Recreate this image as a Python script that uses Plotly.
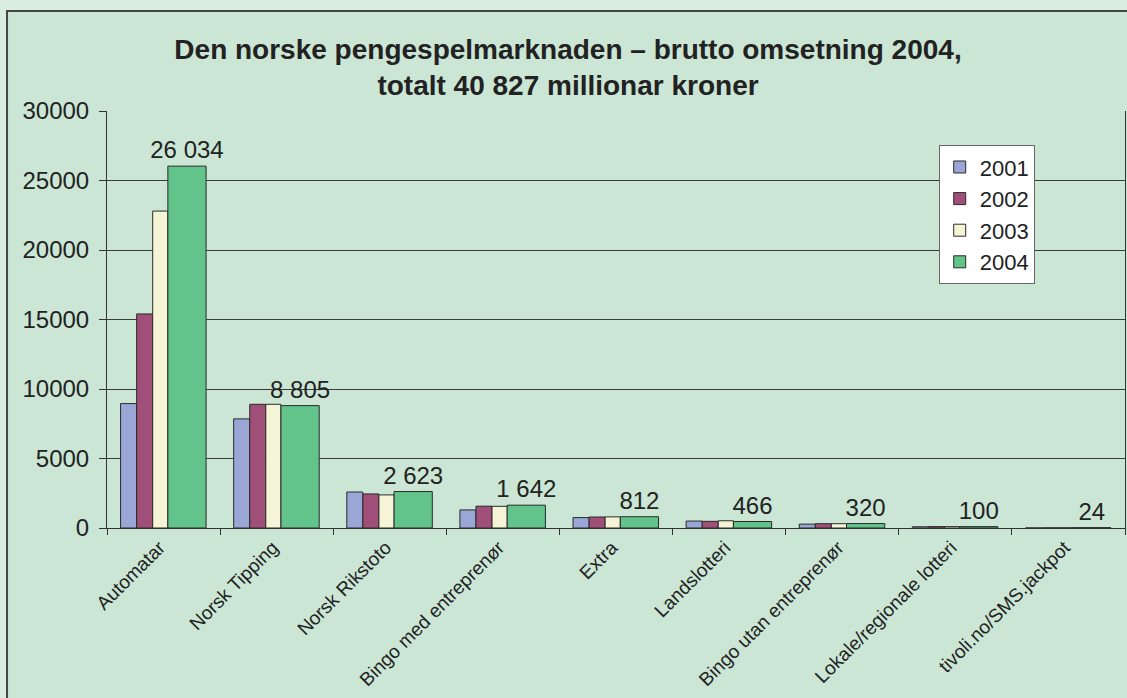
import plotly.graph_objects as go

categories = ["Automatar", "Norsk Tipping", "Norsk Rikstoto", "Bingo med entreprenør",
              "Extra", "Landslotteri", "Bingo utan entreprenør",
              "Lokale/regionale lotteri", "tivoli.no/SMS.jackpot"]
years = ["2001", "2002", "2003", "2004"]
v2001 = [8950, 7850, 2590, 1300, 750, 500, 280, 90, 0]
v2002 = [15400, 8900, 2450, 1570, 790, 480, 310, 100, 10]
v2003 = [22800, 8900, 2380, 1560, 800, 520, 310, 100, 15]
v2004 = [26034, 8805, 2623, 1642, 812, 466, 320, 100, 24]
series = [v2001, v2002, v2003, v2004]
colors = ["#9aa6d6", "#a04f79", "#f6f4d6", "#62c38b"]
offsets = [-0.38, -0.238, -0.096, 0.038]
widths = [0.142, 0.142, 0.134, 0.338]

def fmt(v):
    return f"{v:,}".replace(",", " ")

fig = go.Figure()
for i, (yr, vals) in enumerate(zip(years, series)):
    kw = {}
    if yr == "2004":
        kw = dict(text=[fmt(v) for v in vals], textposition="outside",
                  textfont=dict(size=24, color="#222", family="Liberation Sans, Arial"),
                  constraintext="none", cliponaxis=False, textangle=0)
    fig.add_trace(go.Bar(
        x=categories, y=vals, name=yr,
        offset=offsets[i], width=widths[i],
        marker=dict(color=colors[i], line=dict(color="#2a2a2a", width=1)),
        **kw))

BG = "#cbe6d5"
fig.update_layout(
    width=1127, height=698,
    margin=dict(l=107, r=2, t=111, b=170),
    barmode="overlay",
    paper_bgcolor="#d9ede1",
    plot_bgcolor=BG,
    font=dict(family="Liberation Sans, Arial", color="#222"),
    title=dict(text="<b>Den norske pengespelmarknaden – brutto omsetning 2004,<br>totalt 40 827 millionar kroner</b>",
               x=0.504, xanchor="center", y=0.916, yanchor="top",
               font=dict(size=28, color="#222")),
    legend=dict(x=0.817, y=0.918, xanchor="left", yanchor="top",
                bgcolor="white", bordercolor="#666", borderwidth=1,
                font=dict(size=22, color="#222"), tracegroupgap=0),
    shapes=[dict(type="rect", xref="paper", yref="paper",
                 x0=-0.0982, x1=1.2, y0=-0.6, y1=1.2398,
                 fillcolor=BG, line=dict(color="#444", width=2), layer="below")],
    xaxis=dict(type="category", range=[-0.5, 8.5], tickson="boundaries",
               ticks="outside", ticklen=6, tickcolor="#333",
               showline=True, linecolor="#333", linewidth=1,
               showgrid=False, tickangle=-45, ticklabelshift=-4,
               tickfont=dict(size=19, color="#222")),
    yaxis=dict(range=[0, 30000], dtick=5000, tickformat="d",
               ticks="outside", ticklen=7, tickcolor="#333",
               showline=True, linecolor="#333", linewidth=1, mirror=True,
               showgrid=True, gridcolor="#3a3a3a", gridwidth=1, zeroline=False,
               ticklabelstandoff=5,
               tickfont=dict(size=24, color="#222")),
)
fig.write_html("out.html", config={"displayModeBar": False},
               post_script="document.body.style.margin='0';document.body.style.background='#d9ede1';")
